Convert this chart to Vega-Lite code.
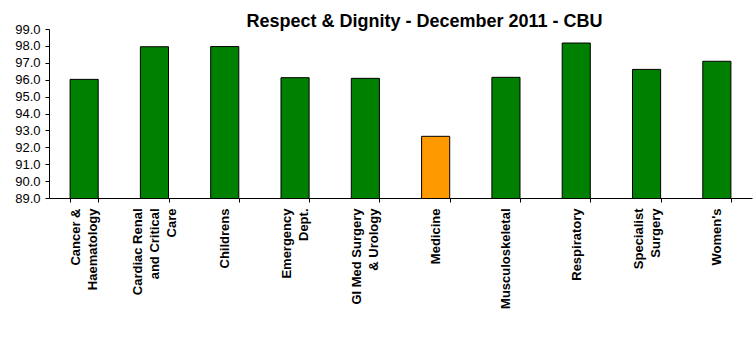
{
  "$schema": "https://vega.github.io/schema/vega-lite/v6.json",
  "width": 703,
  "height": 169,
  "autosize": {"type": "none"},
  "padding": {"left": 49, "top": 29, "right": 4, "bottom": 147},
  "background": "white",
  "title": {
    "text": "Respect & Dignity - December 2011 - CBU",
    "font": "Liberation Sans",
    "fontSize": 18,
    "fontWeight": "bold",
    "color": "black",
    "anchor": "middle",
    "dx": 24,
    "dy": 23,
    "baseline": "bottom",
    "offset": -3
  },
  "data": {
    "values": [
      {"unit": "Cancer & Haematology", "score": 96.02, "status": "ok"},
      {"unit": "Cardiac Renal and Critical Care", "score": 97.95, "status": "ok"},
      {"unit": "Childrens", "score": 97.96, "status": "ok"},
      {"unit": "Emergency Dept.", "score": 96.12, "status": "ok"},
      {"unit": "GI Med Surgery & Urology", "score": 96.08, "status": "ok"},
      {"unit": "Medicine", "score": 92.65, "status": "low"},
      {"unit": "Musculoskeletal", "score": 96.14, "status": "ok"},
      {"unit": "Respiratory", "score": 98.17, "status": "ok"},
      {"unit": "Specialist Surgery", "score": 96.61, "status": "ok"},
      {"unit": "Women's", "score": 97.09, "status": "ok"}
    ]
  },
  "mark": {"type": "bar", "stroke": "black", "strokeWidth": 1, "clip": true},
  "encoding": {
    "x": {
      "field": "unit",
      "type": "nominal",
      "sort": null,
      "scale": {"paddingInner": 0.6, "paddingOuter": 0.3},
      "axis": {
        "title": null,
        "labelAngle": -90,
        "labelAlign": "right",
        "labelBaseline": "middle",
        "labelFont": "Liberation Sans",
        "labelFontSize": 13,
        "labelFontWeight": "bold",
        "labelColor": "black",
        "labelPadding": 6,
        "labelLineHeight": 17,
        "labelLimit": 0,
        "labelOffset": {
          "condition": [
            {"test": "datum.label == 'Cardiac Renal and Critical Care'", "value": -17},
            {"test": "indexof(['Cancer & Haematology', 'Emergency Dept.', 'GI Med Surgery & Urology', 'Specialist Surgery'], datum.label) >= 0", "value": -8.5}
          ],
          "value": 0
        },
        "tickBand": "extent",
        "tickSize": 4,
        "tickColor": "black",
        "domainColor": "black",
        "labelExpr": "datum.label == 'Cancer & Haematology' ? ['Cancer &', 'Haematology'] : datum.label == 'Cardiac Renal and Critical Care' ? ['Cardiac Renal', 'and Critical', 'Care'] : datum.label == 'Emergency Dept.' ? ['Emergency', 'Dept.'] : datum.label == 'GI Med Surgery & Urology' ? ['GI Med Surgery', '& Urology'] : datum.label == 'Specialist Surgery' ? ['Specialist', 'Surgery'] : datum.label"
      }
    },
    "y": {
      "field": "score",
      "type": "quantitative",
      "scale": {"domain": [89, 99], "zero": false, "nice": false},
      "axis": {
        "title": null,
        "values": [89, 90, 91, 92, 93, 94, 95, 96, 97, 98, 99],
        "format": ".1f",
        "grid": false,
        "labelFont": "Liberation Sans",
        "labelFontSize": 13,
        "labelColor": "black",
        "labelPadding": 5,
        "tickSize": 4,
        "tickColor": "black",
        "domainColor": "black"
      }
    },
    "color": {
      "field": "status",
      "type": "nominal",
      "scale": {"domain": ["ok", "low"], "range": ["#008000", "#FF9900"]},
      "legend": null
    }
  },
  "config": {"view": {"stroke": null}}
}
